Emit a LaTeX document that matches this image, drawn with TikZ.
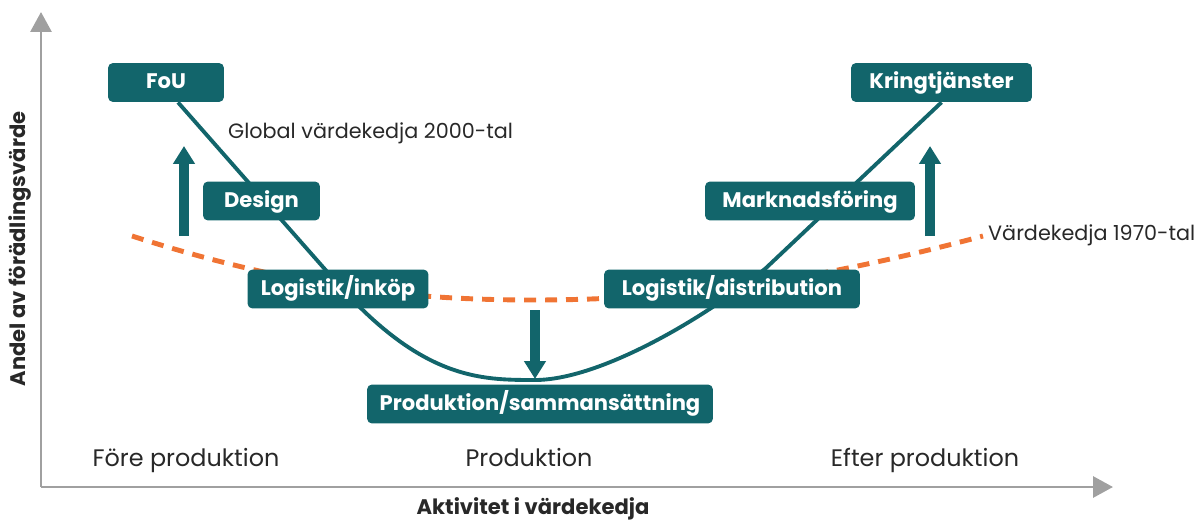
\documentclass[tikz,border=0pt]{standalone}
\usepackage{fontspec}
\setmainfont{Poppins}
\usetikzlibrary{arrows.meta,positioning,calc,backgrounds}
\definecolor{tealbox}{RGB}{18,101,107}
\definecolor{chainorange}{RGB}{240,116,52}
\definecolor{axisgray}{RGB}{160,160,160}
\definecolor{textdark}{RGB}{40,40,40}

\begin{document}
\begin{tikzpicture}[
    x=0.02cm, y=-0.02cm,
    stagebox/.style={
        rectangle, fill=tealbox, text=white, rounded corners=0.1cm,
        minimum height=0.78cm, inner sep=0pt, text height=0.92em, text depth=0.22em,
        font=\fontsize{12}{14}\selectfont\bfseries
    },
    axisline/.style={draw=axisgray, line width=1.7pt, -{Triangle[width=0.42cm,length=0.4cm]}},
    axislabel/.style={font=\fontsize{12}{14}\selectfont\bfseries, text=textdark},
    phase/.style={anchor=base, font=\fontsize{13.6}{16}\selectfont, text=textdark},
    chainlabel/.style={anchor=west, font=\fontsize{11.8}{14}\selectfont, text=textdark},
    smile/.style={draw=tealbox, line width=2.2pt},
    oldchain/.style={draw=chainorange, line width=2.8pt, dash pattern=on 0.24cm off 0.18cm},
    shiftarrow/.style={draw=tealbox, line width=0.2cm, -{Triangle[width=0.42cm,length=0.36cm]}}
]
\useasboundingbox (0,0) rectangle (1196,520);

% aktiviteter
\node[stagebox, minimum width=2.32cm] (fou) at (166,82.5) {FoU};
\node[stagebox, minimum width=2.34cm] (design) at (261.5,201) {Design};
\node[stagebox, minimum width=3.62cm] (inkop) at (338,289) {Logistik/inköp};
\node[stagebox, minimum width=6.92cm] (tillverk) at (540,404) {Produktion/sammansättning};
\node[stagebox, minimum width=5.12cm] (distr) at (732,289) {Logistik/distribution};
\node[stagebox, minimum width=4.2cm] (marknad) at (810,201) {Marknadsföring};
\node[stagebox, minimum width=3.62cm] (kring) at (941.5,82.5) {Kringtjänster};

\begin{scope}[on background layer]
% axlar
\coordinate (origin) at (41,487);
\coordinate (ytop) at (41,12);
\coordinate (xend) at (1113,487);
\draw[axisline] (origin) -- (ytop);
\draw[axisline] (origin) -- (xend);

% värdekedja 1970-tal
\coordinate (old1) at (132,236);
\coordinate (oldmid) at (535,300);
\coordinate (old2) at (983,236);
\draw[oldchain] (old1) .. controls (300,290) and (420,300) .. (oldmid)
    .. controls (680,300) and (820,280) .. (old2);

% global värdekedja 2000-tal
\coordinate (bottom) at (535,380);
\draw[smile] ($(fou.south)+(12,0)$) -- (330,275)
    .. controls (420,380) and (480,380) .. (bottom)
    .. controls (600,380) and (705,318) .. (766,268) -- (kring.south);
\end{scope}

\node[axislabel, rotate=90] (ylab) at (20,249) {Andel av förädlingsvärde};
\node[axislabel] (xlab) at (533,509) {Aktivitet i värdekedja};

% faser
\node[phase] (pre) at (186,466) {Före produktion};
\node[phase] (prod) at (529,466) {Produktion};
\node[phase] (post) at (925,466) {Efter produktion};

% förskjutning
\coordinate (upL0) at (184,236);
\coordinate (upL1) at (184,146);
\coordinate (upR0) at (930,236);
\coordinate (upR1) at (930,146);
\coordinate (down0) at (535,310);
\coordinate (down1) at (535,379);
\draw[shiftarrow] (upL0) -- (upL1);
\draw[shiftarrow] (upR0) -- (upR1);
\draw[shiftarrow] (down0) -- (down1);

\node[chainlabel] (global) at (222,133) {Global värdekedja 2000-tal};
\node[chainlabel] (vk70) at (982,235) {Värdekedja 1970-tal};
\end{tikzpicture}
\end{document}
